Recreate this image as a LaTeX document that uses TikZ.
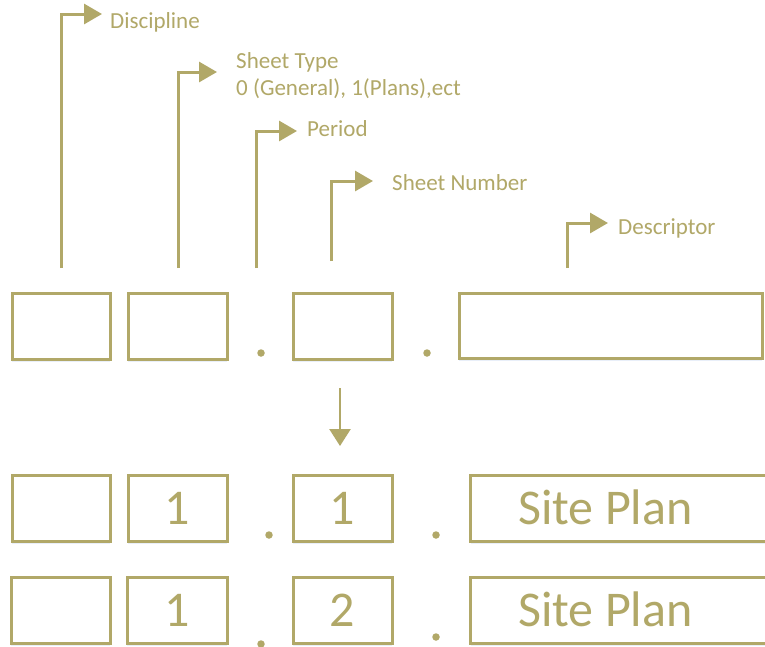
\documentclass[tikz,border=0pt]{standalone}
\usepackage{fontspec}
\setmainfont{Carlito}
\usetikzlibrary{arrows.meta,shadows}
\definecolor{olive}{RGB}{177,168,104}
\definecolor{glow}{RGB}{228,236,248}
\tikzset{
  field/.style={draw=olive, line width=3pt, fill=white, inner sep=0pt,
    drop shadow={shadow xshift=0pt, shadow yshift=-3pt, fill=glow, opacity=0.8},
    text=olive, font=\fontsize{50}{50}\selectfont, text height=32pt, text depth=0pt},
  sep/.style={circle, fill=olive, inner sep=0pt, minimum size=7.5pt},
  lbl/.style={text=olive, font=\fontsize{23}{27}\selectfont, inner sep=0pt, anchor=base west, align=left},
  big/.style={text=olive, font=\fontsize{50}{50}\selectfont, inner sep=0pt, anchor=base west},
  elbow/.style={draw=olive, line width=3pt, -{Triangle[length=18pt 0 0,width=20pt 0 0]}},
  down/.style={draw=olive, line width=2.5pt, -{Triangle[length=17pt 0 0,width=21pt 0 0]}}
}
\begin{document}
\begin{tikzpicture}[x=1pt, y=-1pt]
\clip (0,0) rectangle (765,646);
\fill[white] (0,0) rectangle (765,646);

% code template: discipline, sheet type . period/number . descriptor
\node[field, minimum width=98pt, minimum height=66pt] (a1) at (61,326) {};
\node[field, minimum width=99pt, minimum height=66pt] (a2) at (177.5,326) {};
\node[sep] (ad1) at (261,353) {};
\node[field, minimum width=99pt, minimum height=66pt] (a3) at (342.5,326) {};
\node[sep] (ad2) at (427,353) {};
\node[field, minimum width=303pt, minimum height=65pt] (a4) at (610.5,325.5) {};

% callouts for each field
\coordinate (b1) at (61,268);  \coordinate (t1) at (102,14);
\coordinate (b2) at (178,268); \coordinate (t2) at (217,72);
\coordinate (b3) at (256,268); \coordinate (t3) at (297,131);
\coordinate (b4) at (331,261); \coordinate (t4) at (373,181);
\coordinate (b5) at (567,268); \coordinate (t5) at (608,223);
\draw[elbow] (b1) |- (t1);
\draw[elbow] (b2) |- (t2);
\draw[elbow] (b3) |- (t3);
\draw[elbow] (b4) |- (t4);
\draw[elbow] (b5) |- (t5);
\node[lbl] (l1) at (110,28) {Discipline};
\node[lbl] (l2) at (236,95) {Sheet Type\\0 (General), 1(Plans),ect};
\node[lbl] (l3) at (307,136) {Period};
\node[lbl] (l4) at (392,190) {Sheet Number};
\node[lbl] (l5) at (618,234) {Descriptor};

% example codes
\coordinate (s0) at (340,388);
\coordinate (s1) at (340,446);
\draw[down] (s0) -- (s1);

\node[field, minimum width=98pt, minimum height=66pt] (c1) at (61,508) {};
\node[field, minimum width=99pt, minimum height=66pt] (c2) at (177.5,508) {1};
\node[sep] (cd1) at (269,535) {};
\node[field, minimum width=99pt, minimum height=66pt] (c3) at (342.5,508) {1};
\node[sep] (cd2) at (436,535) {};
\node[field, minimum width=320pt, minimum height=66pt, anchor=west] (c4) at (469,508) {};
\node[big] (c4t) at (518,524) {Site Plan};

\node[field, minimum width=99pt, minimum height=66pt] (e1) at (60.5,610) {};
\node[field, minimum width=100pt, minimum height=66pt] (e2) at (177,610) {1};
\node[sep] (ed1) at (261,644) {};
\node[field, minimum width=99pt, minimum height=66pt] (e3) at (342.5,610) {2};
\node[sep] (ed2) at (436,637) {};
\node[field, minimum width=320pt, minimum height=66pt, anchor=west] (e4) at (469,610) {};
\node[big] (e4t) at (518,626) {Site Plan};
\end{tikzpicture}
\end{document}
